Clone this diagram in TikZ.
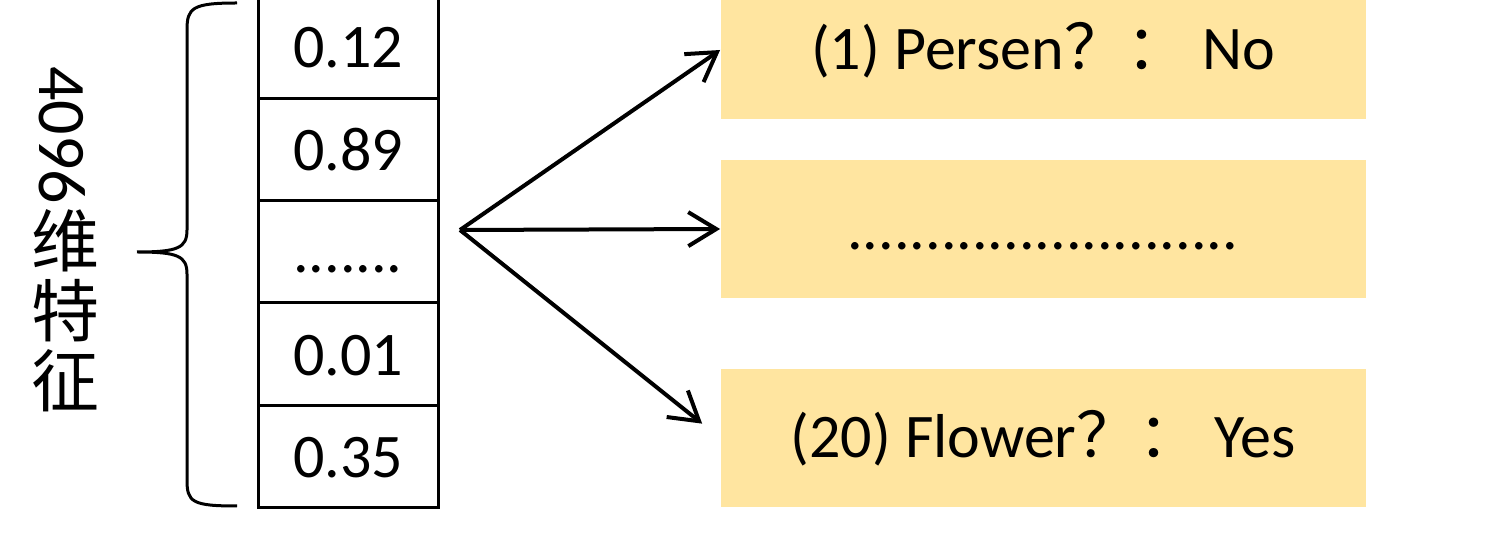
\documentclass[tikz,border=0pt]{standalone}
\usepackage{fontspec}
\setmainfont{Carlito}
\newfontfamily\cjk{Noto Sans CJK SC}
\usetikzlibrary{arrows.meta}
\definecolor{answerfill}{HTML}{FFE5A0}
\newcommand\celldots{.......}
\begin{document}
\begin{tikzpicture}[
        x=0.5pt, y=-0.5pt,
        cell/.style={draw, line width=1.5pt, minimum width=90pt, minimum height=51.2pt, inner sep=0pt,
                     text height=21pt, text depth=0pt, font=\fontsize{31}{36}\selectfont},
        answer/.style={fill=answerfill, minimum width=322.5pt, minimum height=69pt, inner sep=0pt,
                       font=\fontsize{31}{36}\selectfont},
        feed/.style={-{Straight Barb[length=14pt, width=17pt, line width=2pt]}, line width=2pt}
    ]
        \path[use as bounding box, clip] (0,0) rectangle (1488,533);

        % feature vector
        \foreach \val [count=\i from 0] in {0.12,0.89,\celldots,0.01,0.35}
            \node[cell] (cell\i) at (348, {47+102.4*\i}) {\val};

        % brace and label
        \draw[line width=1.5pt] (237,3) .. controls (192,3) and (187,8) .. (187,30) -- (187,230)
            .. controls (187,248) and (178,252) .. (137,252)
            (137,252) .. controls (178,252) and (187,256) .. (187,274) -- (187,480)
            .. controls (187,502) and (192,506) .. (237,506);
        \node[rotate=-90, font=\fontsize{34}{34}\selectfont] (dims) at (62,135) {4096};
        \node[align=center, font=\fontsize{34}{35}\selectfont\cjk] (featlabel) at (66,311) {维\\特\\征};

        % answers
        \node[answer] (box1) at (1043,50) {(1) Persen{\cjk ？：}~No};
        \node[answer, text height=21pt, text depth=0pt] (box2) at (1043,229) {.........................};
        \node[answer] (box3) at (1043,438) {(20) Flower{\cjk ？：}~Yes};

        \coordinate (fork) at (460,230);
        \draw[feed] (fork) -- (box1.west);
        \draw[feed] (fork) -- (box2.west);
        \draw[feed, shorten >=11.5pt] (fork) -- (box3.west);
    \end{tikzpicture}
\end{document}
